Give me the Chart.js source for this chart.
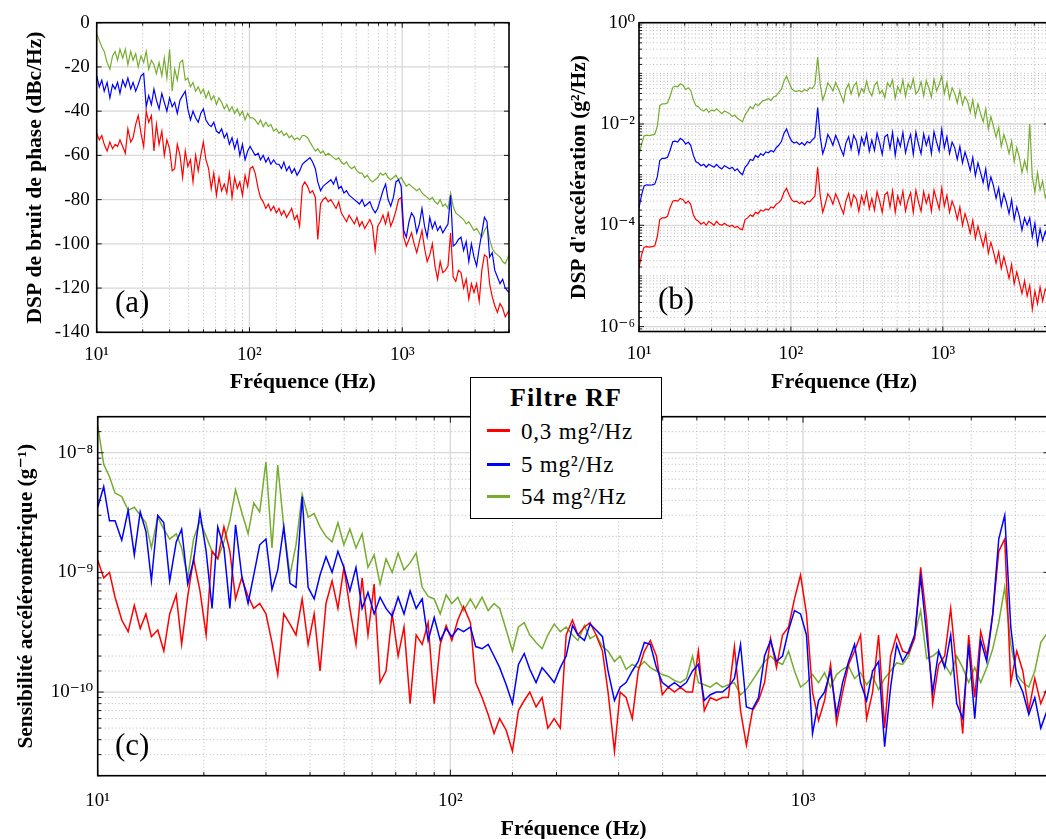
<!DOCTYPE html>
<html><head><meta charset="utf-8">
<script src="https://cdn.jsdelivr.net/npm/chart.js@4.4.1/dist/chart.umd.min.js"></script>
<style>
html,body{margin:0;padding:0;background:#fff;width:1046px;height:839px;overflow:hidden;position:relative;}
canvas{position:absolute;}
#ca{left:0;top:0;} #cb{left:520px;top:0;} #cc{left:0;top:400px;}
.tag{position:absolute;font-family:'Liberation Serif','DejaVu Serif',serif;font-size:31px;line-height:31px;color:#000;z-index:5;}
#legend{position:absolute;left:470px;top:376.7px;width:190px;height:140.3px;border:1.5px solid #000;background:#fff;z-index:10;font-family:'Liberation Serif','DejaVu Serif',serif;color:#000;}
#legend .lt{position:absolute;left:0;top:5.8px;width:190px;text-align:center;font-weight:bold;font-size:26px;line-height:30px;letter-spacing:1px;}
#legend .sw{position:absolute;left:15.5px;width:23px;height:3px;}
#legend .le{position:absolute;left:50px;font-size:23px;line-height:28px;letter-spacing:0.8px;white-space:nowrap;}
</style>
</head><body>
<canvas id="ca" width="520" height="400"></canvas>
<canvas id="cb" width="540" height="400"></canvas>
<canvas id="cc" width="1063" height="445"></canvas>
<div class="tag" style="left:115px;top:285.5px">(a)</div>
<div class="tag" style="left:658px;top:283px">(b)</div>
<div class="tag" style="left:115px;top:729px">(c)</div>
<div id="legend"></div>
<script>
// ---------- data ----------
const FREQ = [
10,10.4,10.8,11.2,11.7,12.2,12.7,13.2,13.7,14.2,
14.8,15.4,16,16.7,17.3,18,18.7,19.5,20.3,21.1,
21.9,22.8,23.7,24.6,25.6,26.7,27.7,28.8,30,31.2,
32.4,33.7,35.1,36.5,38,39.5,41.1,42.7,44.4,46.2,
48,49.9,51.9,54,56.2,58.4,60.8,63.2,65.7,68.4,
71.1,73.9,76.9,80,83.2,86.5,90,93.6,97.3,101,
105,109,114,118,123,128,133,138,144,150,
156,162,168,175,182,189,197,205,213,222,
230,240,249,259,270,280,292,303,315,328,
341,355,369,384,399,415,432,449,467,486,
505,525,546,568,591,614,639,665,691,719,
748,778,809,841,875,910,946,984,1023,1064,
1107,1151,1197,1245,1295,1347,1400,1456,1515,1575,
1638,1704,1772,1843,1917,1993,2073,2156,2242,2332,
2425,2522,2623,2728,2837,2950,3069,3191,3319,3452,
3590,3733,3883,4038,4200,4368,4542,4724,5000];

const SERIES_NAMES = ['0,3 mg²/Hz','5 mg²/Hz','54 mg²/Hz'];
const SERIES_COLORS = ['#ff0000','#0000ff','#77ac30'];
const LEGEND_TITLE = 'Filtre RF';

// (a) phase noise PSD, dBc/Hz
const A_RED = [
-50,-53,-51,-55,-58,-54,-57,-55,-56,-53,
-56,-59,-48,-54,-52,-46,-42,-50,-56,-40,
-45,-42,-58,-46,-55,-49,-60,-53,-57,-67,
-66,-55,-60,-70,-58,-65,-62,-72,-60,-67,
-60,-54,-62,-66,-75,-68,-78,-70,-76,-73,
-77,-68,-79,-70,-75,-72,-78,-69,-74,-66,
-65,-68,-75,-79,-81,-84,-82,-85,-83,-86,
-84,-87,-85,-88,-86,-84,-89,-87,-92,-74,
-72,-74,-77,-76,-79,-98,-82,-80,-79,-81,
-80,-82,-84,-81,-86,-88,-90,-87,-89,-91,
-88,-92,-90,-93,-91,-89,-92,-103,-92,-90,
-87,-91,-86,-92,-89,-85,-80,-79,-97,-101,
-98,-95,-100,-104,-99,-94,-102,-108,-105,-100,
-110,-116,-108,-113,-112,-110,-95,-115,-117,-112,
-113,-120,-116,-125,-118,-122,-118,-126,-112,-105,
-106,-118,-124,-128,-131,-127,-129,-133,-130];
const A_BLUE = [
-24,-29,-26,-31,-27,-34,-28,-30,-27,-32,
-26,-29,-25,-30,-27,-31,-28,-24,-23,-38,
-33,-37,-30,-35,-39,-32,-36,-40,-34,-38,
-36,-41,-35,-33,-31,-39,-44,-40,-43,-45,
-41,-39,-44,-46,-47,-45,-49,-50,-48,-52,
-50,-55,-52,-57,-53,-60,-55,-62,-58,-56,
-58,-60,-59,-62,-60,-63,-61,-64,-62,-64,
-64,-66,-63,-67,-65,-68,-66,-69,-67,-64,
-63,-62,-61,-63,-66,-72,-76,-74,-73,-72,
-71,-73,-70,-75,-74,-77,-76,-78,-79,-80,
-81,-82,-80,-83,-82,-81,-84,-86,-84,-80,
-76,-73,-80,-83,-79,-72,-71,-74,-94,-97,
-90,-86,-88,-95,-91,-84,-92,-97,-88,-93,
-90,-94,-92,-95,-93,-91,-78,-101,-100,-98,
-97,-103,-99,-108,-100,-106,-110,-102,-95,-88,
-90,-106,-104,-112,-115,-118,-116,-120,-122];
const A_GREEN = [
-5,-8,-11,-13,-18,-21,-15,-13,-17,-12,
-16,-12,-19,-13,-17,-14,-20,-15,-18,-13,
-21,-17,-19,-23,-18,-24,-16,-25,-12,-31,
-21,-26,-18,-17,-26,-25,-29,-27,-31,-29,
-32,-30,-34,-31,-35,-33,-37,-34,-36,-39,
-37,-40,-38,-41,-39,-42,-40,-44,-41,-43,
-43,-44,-46,-44,-47,-45,-47,-46,-49,-48,
-50,-49,-51,-50,-52,-51,-53,-52,-53,-51,
-51,-52,-54,-56,-58,-57,-59,-58,-60,-59,
-60,-61,-62,-61,-63,-64,-63,-65,-66,-65,
-67,-68,-68,-70,-69,-71,-72,-71,-70,-68,
-69,-68,-70,-71,-70,-69,-71,-70,-72,-74,
-73,-74,-75,-76,-75,-77,-78,-79,-80,-79,
-81,-82,-80,-83,-82,-84,-77,-83,-86,-87,
-88,-89,-91,-90,-92,-94,-93,-95,-97,-94,
-92,-98,-102,-104,-105,-106,-108,-109,-105];

// (b) acceleration PSD, g²/Hz
const B_RED = [
1.45e-5,2.6e-5,3.7e-5,3.8e-5,3.7e-5,3.8e-5,3.9e-5,6e-5,1.3e-4,1.4e-4,
1.4e-4,1.5e-4,2.2e-4,3.0e-4,3.1e-4,3.0e-4,3.4e-4,3.2e-4,2.7e-4,3.0e-4,
2.6e-4,1.6e-4,1.3e-4,1.2e-4,1.05e-4,1.15e-4,1.0e-4,1.2e-4,1.1e-4,1.0e-4,
1.2e-4,1.05e-4,1.0e-4,1.1e-4,1.0e-4,9.5e-5,1.0e-4,9e-5,9.5e-5,8.5e-5,
8.2e-5,1.3e-4,1.4e-4,1.6e-4,1.5e-4,1.8e-4,1.7e-4,2.0e-4,1.9e-4,2.1e-4,
2.0e-4,2.3e-4,2.2e-4,2.6e-4,2.8e-4,3.2e-4,4.5e-4,5.4e-4,4.0e-4,3.2e-4,
2.9e-4,3.0e-4,2.7e-4,2.9e-4,2.6e-4,3.0e-4,2.9e-4,3.3e-4,3.8e-4,1.4e-3,
3.8e-4,1.8e-4,2.6e-4,4.2e-4,3.5e-4,2.6e-4,4.2e-4,3.2e-4,2.3e-4,1.7e-4,
3.0e-4,4.3e-4,2.4e-4,4.0e-4,3.3e-4,1.9e-4,3.8e-4,2.6e-4,4.5e-4,2.1e-4,
3.4e-4,2.0e-4,4.6e-4,3.0e-4,1.8e-4,4.0e-4,4.5e-4,2.3e-4,4.8e-4,1.8e-4,
3.8e-4,2.6e-4,4.7e-4,1.9e-4,3.2e-4,4.4e-4,1.8e-4,4.9e-4,2.9e-4,1.9e-4,
4.6e-4,2.7e-4,4.0e-4,1.9e-4,4.9e-4,3.2e-4,2.1e-4,5.4e-4,2.4e-4,3.9e-4,
1.8e-4,3.0e-4,2.2e-4,1.3e-4,2.3e-4,1.0e-4,1.7e-4,1.15e-4,7e-5,1.25e-4,
5.5e-5,9.5e-5,6e-5,3.8e-5,6.8e-5,2.8e-5,4.6e-5,3.0e-5,1.8e-5,3.0e-5,
1.4e-5,2.4e-5,1.5e-5,9e-6,1.7e-5,7e-6,1.2e-5,7.5e-6,4.5e-6,8e-6,
4e-6,6.5e-6,2.2e-6,5e-6,2.8e-6,6e-6,3.2e-6,5.5e-6,4.5e-6];
const B_BLUE = [
2.2e-4,4e-4,6.0e-4,6.3e-4,6.2e-4,6.3e-4,6.5e-4,9e-4,1.9e-3,2.1e-3,
2.1e-3,2.2e-3,3.0e-3,4.5e-3,4.6e-3,4.4e-3,5.2e-3,4.8e-3,4.0e-3,4.4e-3,
3.8e-3,2.4e-3,1.8e-3,1.7e-3,1.5e-3,1.6e-3,1.4e-3,1.6e-3,1.5e-3,1.4e-3,
1.6e-3,1.4e-3,1.3e-3,1.5e-3,1.4e-3,1.3e-3,1.4e-3,1.2e-3,1.3e-3,1.1e-3,
1.0e-3,1.4e-3,1.6e-3,2.0e-3,1.9e-3,2.4e-3,2.2e-3,2.6e-3,2.4e-3,2.8e-3,
2.7e-3,3.0e-3,2.8e-3,3.4e-3,3.8e-3,4.5e-3,6.5e-3,8.0e-3,5.8e-3,4.6e-3,
4.2e-3,4.4e-3,3.9e-3,4.3e-3,3.8e-3,4.5e-3,4.2e-3,4.8e-3,5.5e-3,2.1e-2,
5.5e-3,2.6e-3,3.6e-3,6.2e-3,5.0e-3,3.8e-3,6.0e-3,4.5e-3,3.2e-3,2.4e-3,
4.2e-3,5.6e-3,3.2e-3,6.0e-3,4.6e-3,2.6e-3,5.4e-3,3.8e-3,6.4e-3,2.9e-3,
4.8e-3,3.0e-3,6.6e-3,4.2e-3,2.5e-3,5.6e-3,6.2e-3,3.3e-3,6.8e-3,2.4e-3,
5.2e-3,3.6e-3,6.8e-3,2.7e-3,4.4e-3,6.2e-3,2.5e-3,6.9e-3,4.0e-3,2.6e-3,
6.4e-3,3.8e-3,5.6e-3,2.6e-3,7.0e-3,4.4e-3,2.9e-3,7.8e-3,3.4e-3,5.6e-3,
2.6e-3,4.4e-3,3.4e-3,2.0e-3,3.6e-3,1.7e-3,2.8e-3,1.9e-3,1.2e-3,2.2e-3,
9.5e-4,1.7e-3,1.1e-3,7.0e-4,1.3e-3,5.2e-4,9.0e-4,6.0e-4,3.4e-4,5.5e-4,
2.4e-4,4.2e-4,2.8e-4,1.7e-4,3.2e-4,1.3e-4,2.3e-4,1.5e-4,8e-5,1.4e-4,
1.0e-4,1.4e-4,6e-5,1.1e-4,4.2e-5,8.5e-5,5e-5,7.5e-5,4.5e-5];
const B_GREEN = [
2.4e-3,4.0e-3,5.8e-3,6.0e-3,5.9e-3,6.1e-3,6.3e-3,9e-3,2.3e-2,2.5e-2,
2.5e-2,2.6e-2,3.5e-2,5.3e-2,5.6e-2,5.4e-2,6.2e-2,5.8e-2,4.8e-2,5.2e-2,
4.6e-2,3.0e-2,2.3e-2,2.2e-2,1.9e-2,1.8e-2,2.0e-2,1.7e-2,1.9e-2,1.8e-2,
2.0e-2,1.8e-2,1.6e-2,1.8e-2,1.7e-2,1.6e-2,1.4e-2,1.5e-2,1.3e-2,1.2e-2,
1.1e-2,1.5e-2,1.8e-2,2.2e-2,2.0e-2,2.5e-2,2.3e-2,2.6e-2,2.9e-2,3.0e-2,
3.2e-2,2.9e-2,3.4e-2,3.6e-2,4.2e-2,4.8e-2,7.0e-2,8.9e-2,6.5e-2,5.0e-2,
4.5e-2,4.4e-2,4.6e-2,4.3e-2,4.8e-2,4.5e-2,5.2e-2,5.0e-2,6.0e-2,0.21,
6.0e-2,3.0e-2,4.0e-2,6.5e-2,5.5e-2,4.5e-2,6.6e-2,5.0e-2,3.8e-2,2.7e-2,
4.8e-2,6.2e-2,3.9e-2,5.6e-2,6.6e-2,3.5e-2,5.0e-2,4.2e-2,7.0e-2,4.4e-2,
3.6e-2,5.8e-2,6.8e-2,4.0e-2,4.6e-2,3.3e-2,6.5e-2,5.4e-2,7.4e-2,3.2e-2,
5.5e-2,4.2e-2,7.4e-2,3.5e-2,6.2e-2,5.0e-2,7.8e-2,3.9e-2,4.6e-2,6.8e-2,
3.6e-2,7.2e-2,5.2e-2,3.4e-2,7.6e-2,4.5e-2,6.0e-2,8.8e-2,4.0e-2,6.6e-2,
3.2e-2,5.2e-2,4.0e-2,2.6e-2,4.6e-2,2.4e-2,3.5e-2,2.8e-2,1.7e-2,3.0e-2,
1.4e-2,2.5e-2,1.6e-2,1.1e-2,2.0e-2,8e-3,1.4e-2,9e-3,5.5e-3,8.5e-3,
3.6e-3,6.2e-3,4.2e-3,2.6e-3,4.6e-3,1.8e-3,3.4e-3,2.2e-3,1.1e-3,1.9e-3,
1.2e-3,1.0e-2,9e-4,4.5e-4,1.1e-3,5e-4,7.5e-4,3.5e-4,6e-4];

// (c) accelerometric sensitivity, g^-1
const C_RED = [
1.27e-9,0.9e-9,1.0e-9,0.62e-9,0.4e-9,0.32e-9,0.53e-9,0.34e-9,0.45e-9,0.29e-9,
0.33e-9,0.22e-9,0.45e-9,0.65e-9,0.25e-9,0.63e-9,1.3e-9,0.7e-9,0.3e-9,1.5e-9,
1.3e-9,2.4e-9,1.5e-9,0.6e-9,0.9e-9,0.63e-9,0.5e-9,0.55e-9,0.45e-9,0.26e-9,
0.14e-9,0.45e-9,0.37e-9,0.3e-9,0.6e-9,0.25e-9,0.45e-9,0.15e-9,0.55e-9,0.85e-9,
0.5e-9,1.1e-9,0.5e-9,0.25e-9,0.9e-9,0.3e-9,0.8e-9,0.12e-9,0.15e-9,0.45e-9,
0.2e-9,0.35e-9,0.08e-9,0.3e-9,0.25e-9,0.38e-9,0.08e-9,0.25e-9,0.36e-9,0.27e-9,
0.4e-9,0.52e-9,0.38e-9,0.12e-9,0.09e-9,0.065e-9,0.045e-9,0.06e-9,0.048e-9,0.032e-9,
0.07e-9,0.085e-9,0.1e-9,0.075e-9,0.09e-9,0.05e-9,0.06e-9,0.05e-9,0.3e-9,0.4e-9,
0.3e-9,0.35e-9,0.38e-9,0.3e-9,0.22e-9,0.1e-9,0.032e-9,0.1e-9,0.09e-9,0.06e-9,
0.15e-9,0.22e-9,0.27e-9,0.2e-9,0.095e-9,0.11e-9,0.1e-9,0.11e-9,0.1e-9,0.1e-9,
0.22e-9,0.07e-9,0.09e-9,0.085e-9,0.09e-9,0.09e-9,0.24e-9,0.07e-9,0.036e-9,0.07e-9,
0.085e-9,0.12e-9,0.28e-9,0.16e-9,0.3e-9,0.35e-9,0.6e-9,0.95e-9,0.45e-9,0.1e-9,
0.058e-9,0.085e-9,0.17e-9,0.055e-9,0.1e-9,0.17e-9,0.22e-9,0.3e-9,0.06e-9,0.1e-9,
0.3e-9,0.05e-9,0.2e-9,0.3e-9,0.22e-9,0.21e-9,0.28e-9,1.1e-9,0.4e-9,0.08e-9,
0.17e-9,0.2e-9,0.5e-9,0.15e-9,0.045e-9,0.3e-9,0.09e-9,0.32e-9,0.2e-9,0.45e-9,
1.5e-9,1.9e-9,0.12e-9,0.22e-9,0.15e-9,0.07e-9,0.13e-9,0.08e-9,0.12e-9];
const C_BLUE = [
3.5e-9,5.2e-9,2.7e-9,2.7e-9,1.86e-9,3.3e-9,1.4e-9,3.2e-9,2.2e-9,0.85e-9,
3.0e-9,2.6e-9,0.85e-9,1.8e-9,2.3e-9,0.8e-9,1.25e-9,3.2e-9,1.5e-9,0.5e-9,
2.4e-9,1.6e-9,0.5e-9,2.5e-9,0.95e-9,0.55e-9,0.95e-9,1.7e-9,1.9e-9,0.72e-9,
1.05e-9,2.4e-9,0.81e-9,0.75e-9,4.3e-9,0.75e-9,0.6e-9,0.95e-9,1.35e-9,1.0e-9,
1.5e-9,1.1e-9,0.7e-9,1.1e-9,0.5e-9,0.68e-9,0.45e-9,0.62e-9,0.5e-9,0.43e-9,
0.62e-9,0.45e-9,0.7e-9,0.5e-9,0.6e-9,0.27e-9,0.42e-9,0.27e-9,0.34e-9,0.29e-9,
0.34e-9,0.32e-9,0.35e-9,0.24e-9,0.23e-9,0.25e-9,0.2e-9,0.16e-9,0.115e-9,0.08e-9,
0.17e-9,0.21e-9,0.155e-9,0.12e-9,0.16e-9,0.14e-9,0.12e-9,0.16e-9,0.2e-9,0.36e-9,
0.3e-9,0.27e-9,0.37e-9,0.33e-9,0.29e-9,0.15e-9,0.085e-9,0.11e-9,0.12e-9,0.15e-9,
0.18e-9,0.26e-9,0.25e-9,0.16e-9,0.12e-9,0.11e-9,0.12e-9,0.11e-9,0.12e-9,0.15e-9,
0.17e-9,0.085e-9,0.095e-9,0.1e-9,0.1e-9,0.11e-9,0.13e-9,0.25e-9,0.075e-9,0.072e-9,
0.09e-9,0.2e-9,0.27e-9,0.18e-9,0.2e-9,0.33e-9,0.48e-9,0.45e-9,0.3e-9,0.045e-9,
0.085e-9,0.1e-9,0.15e-9,0.065e-9,0.12e-9,0.18e-9,0.25e-9,0.12e-9,0.085e-9,0.15e-9,
0.18e-9,0.035e-9,0.11e-9,0.25e-9,0.18e-9,0.22e-9,0.3e-9,0.92e-9,0.3e-9,0.1e-9,
0.22e-9,0.16e-9,0.3e-9,0.08e-9,0.06e-9,0.25e-9,0.06e-9,0.27e-9,0.18e-9,0.45e-9,
1.9e-9,3.0e-9,0.35e-9,0.13e-9,0.1e-9,0.065e-9,0.09e-9,0.05e-9,0.08e-9];
const C_GREEN = [
17e-9,8.0e-9,6.3e-9,4.6e-9,4.3e-9,3.3e-9,3.5e-9,3.0e-9,2.6e-9,1.6e-9,
2.9e-9,2.3e-9,1.9e-9,2.1e-9,1.6e-9,0.9e-9,1.9e-9,2.7e-9,2.0e-9,1.5e-9,
1.3e-9,1.8e-9,2.7e-9,4.9e-9,3.2e-9,2.1e-9,3.8e-9,3.2e-9,8.4e-9,1.6e-9,
7.9e-9,2.4e-9,0.95e-9,1.7e-9,4.5e-9,2.9e-9,3.1e-9,2.4e-9,2.0e-9,1.8e-9,
2.6e-9,1.7e-9,2.3e-9,1.6e-9,2.1e-9,1.1e-9,1.4e-9,0.8e-9,1.3e-9,1.0e-9,
1.45e-9,1.05e-9,1.2e-9,1.45e-9,0.75e-9,0.63e-9,0.6e-9,0.45e-9,0.65e-9,0.55e-9,
0.62e-9,0.48e-9,0.6e-9,0.5e-9,0.62e-9,0.48e-9,0.55e-9,0.5e-9,0.33e-9,0.22e-9,
0.35e-9,0.38e-9,0.3e-9,0.26e-9,0.23e-9,0.3e-9,0.37e-9,0.32e-9,0.35e-9,0.3e-9,
0.27e-9,0.36e-9,0.28e-9,0.3e-9,0.24e-9,0.22e-9,0.18e-9,0.2e-9,0.155e-9,0.17e-9,
0.16e-9,0.18e-9,0.16e-9,0.15e-9,0.14e-9,0.135e-9,0.125e-9,0.12e-9,0.13e-9,0.2e-9,
0.12e-9,0.115e-9,0.11e-9,0.12e-9,0.11e-9,0.115e-9,0.12e-9,0.095e-9,0.105e-9,0.125e-9,
0.15e-9,0.18e-9,0.2e-9,0.18e-9,0.17e-9,0.22e-9,0.15e-9,0.11e-9,0.12e-9,0.14e-9,
0.12e-9,0.145e-9,0.11e-9,0.14e-9,0.155e-9,0.165e-9,0.13e-9,0.145e-9,0.115e-9,0.135e-9,
0.105e-9,0.13e-9,0.15e-9,0.175e-9,0.17e-9,0.2e-9,0.3e-9,0.48e-9,0.19e-9,0.2e-9,
0.22e-9,0.17e-9,0.14e-9,0.2e-9,0.16e-9,0.12e-9,0.16e-9,0.12e-9,0.16e-9,0.23e-9,
0.38e-9,0.75e-9,0.25e-9,0.14e-9,0.12e-9,0.11e-9,0.15e-9,0.26e-9,0.33e-9];

// tick labels
const X_TICKS = [10, 100, 1000];
const X_TICK_LABELS = ['10¹', '10²', '10³'];
const A_Y_TICKS = [0, -20, -40, -60, -80, -100, -120, -140];
const A_Y_TICK_LABELS = ['0', '-20', '-40', '-60', '-80', '-100', '-120', '-140'];
const B_Y_TICKS = [1, 1e-2, 1e-4, 1e-6];
const B_Y_TICK_LABELS = ['10⁰', '10⁻²', '10⁻⁴', '10⁻⁶'];
const C_Y_TICKS = [1e-8, 1e-9, 1e-10];
const C_Y_TICK_LABELS = ['10⁻⁸', '10⁻⁹', '10⁻¹⁰'];

const TITLE_X = 'Fréquence (Hz)';
const TITLE_A = 'DSP de bruit de phase (dBc/Hz)';
const TITLE_B = "DSP d'accélération (g²/Hz)";
const TITLE_C = 'Sensibilité accélérométrique (g⁻¹)';

// ---------- helpers ----------
const SERIF = "'Liberation Serif','DejaVu Serif',serif";
function tickText(v, vals, labels){
  for (let i = 0; i < vals.length; i++){
    if (v === vals[i] || Math.abs(v - vals[i]) <= Math.abs(vals[i]) * 1e-6) return labels[i];
  }
  return '';
}
function isMajor(scale, v, every){
  if (scale.type !== 'logarithmic') return true;
  const e = Math.log10(v), r = Math.round(e);
  return Math.abs(e - r) < 1e-6 && (r % every === 0);
}
const matlabPlugin = {
  id: 'matlab',
  beforeDatasetsDraw(chart, args, o){
    const {ctx, chartArea: a} = chart;
    ctx.save();
    ctx.beginPath(); ctx.rect(a.left, a.top, a.right - a.left, a.bottom - a.top); ctx.clip();
    const draw = (s, vertical, minorOn, every) => {
      s.ticks.forEach(t => {
        const v = t.value, major = isMajor(s, v, every);
        if (!major && !minorOn) return;
        const p = s.getPixelForValue(v);
        ctx.beginPath();
        ctx.lineWidth = major ? 1.3 : 1;
        ctx.strokeStyle = major ? '#d7d7d7' : '#b9b9b9';
        ctx.setLineDash(major ? [] : [1, 2.5]);
        if (vertical){ ctx.moveTo(p, a.top); ctx.lineTo(p, a.bottom); }
        else { ctx.moveTo(a.left, p); ctx.lineTo(a.right, p); }
        ctx.stroke();
      });
    };
    draw(chart.scales.x, true, true, 1);
    draw(chart.scales.y, false, o.yMinor, o.yEvery || 1);
    ctx.restore();
  },
  afterDatasetsDraw(chart, args, o){
    const {ctx, chartArea: a} = chart;
    ctx.save();
    ctx.setLineDash([]);
    ctx.strokeStyle = '#1a1a1a';
    ctx.lineWidth = 1;
    const L = o.tick || 6;
    const xs = chart.scales.x, ys = chart.scales.y;
    ctx.beginPath();
    xs.ticks.forEach(t => {
      const p = xs.getPixelForValue(t.value);
      const l = isMajor(xs, t.value, 1) ? L : L * 0.6;
      ctx.moveTo(p, a.bottom); ctx.lineTo(p, a.bottom - l);
      ctx.moveTo(p, a.top); ctx.lineTo(p, a.top + l);
    });
    ys.ticks.forEach(t => {
      const p = ys.getPixelForValue(t.value);
      const l = isMajor(ys, t.value, o.yEvery || 1) ? L : L * 0.6;
      ctx.moveTo(a.left, p); ctx.lineTo(a.left + l, p);
      ctx.moveTo(a.right, p); ctx.lineTo(a.right - l, p);
    });
    ctx.stroke();
    ctx.lineWidth = 1.6;
    ctx.strokeStyle = '#000';
    ctx.strokeRect(a.left, a.top, a.right - a.left, a.bottom - a.top);
    ctx.restore();
  }
};

function ds(label, color, ys, order, bw){
  return {label, data: FREQ.map((f, i) => ({x: f, y: ys[i]})), borderColor: color,
          backgroundColor: color, borderWidth: bw, pointRadius: 0, tension: 0, fill: false, order};
}

function makeChart(id, o){
  return new Chart(document.getElementById(id), {
    type: 'line',
    data: {datasets: [
      ds(SERIES_NAMES[2], SERIES_COLORS[2], o.green, 3, o.bw),
      ds(SERIES_NAMES[0], SERIES_COLORS[0], o.red, 2, o.bw),
      ds(SERIES_NAMES[1], SERIES_COLORS[1], o.blue, 1, o.bw)
    ]},
    options: {
      responsive: false, animation: false, events: [],
      layout: {padding: o.pad},
      plugins: {legend: {display: false}, tooltip: {enabled: false},
                matlab: {yMinor: o.yMinor, yEvery: o.yEvery, tick: o.tick}},
      scales: {
        x: {type: 'logarithmic', min: 10, max: 5000,
            grid: {display: false, drawTicks: false}, border: {display: false},
            ticks: {autoSkip: false, maxRotation: 0, minRotation: 0, padding: o.xPad, color: '#000',
                    font: {family: SERIF, size: 19},
                    callback: v => tickText(v, X_TICKS, X_TICK_LABELS)},
            title: {display: true, text: TITLE_X, color: '#000',
                    font: {family: SERIF, size: 22, weight: 'bold'}, padding: {top: 0, bottom: o.xTitlePad}},
            afterFit: s => { s.height = o.xH; }},
        y: {type: o.yType, min: o.yMin, max: o.yMax,
            grid: {display: false, drawTicks: false}, border: {display: false},
            ticks: Object.assign({autoSkip: false, padding: o.yPad, color: '#000', font: {family: SERIF, size: 19},
                    callback: v => tickText(v, o.yTicks, o.yLabels)}, o.yTickExtra || {}),
            title: {display: true, text: o.yTitle, color: '#000',
                    font: {family: SERIF, size: o.yTitleSize, weight: 'bold'}, padding: {top: o.yTitlePad, bottom: 0}},
            afterFit: s => { s.width = o.yW; }}
      }
    },
    plugins: [matlabPlugin]
  });
}

makeChart('ca', {
  red: A_RED, blue: A_BLUE, green: A_GREEN, bw: 1.2,
  pad: {top: 22.7, right: 10, left: 0, bottom: 0},
  xH: 67.7, xPad: 11, xTitlePad: 4.8,
  yW: 96.7, yPad: 7, yTitlePad: 22.1, yTitle: TITLE_A, yTitleSize: 21.5,
  yTicks: A_Y_TICKS, yLabels: A_Y_TICK_LABELS,
  yType: 'linear', yMin: -140, yMax: 0, yTickExtra: {stepSize: 20},
  yMinor: false, tick: 5
});

makeChart('cb', {
  red: B_RED, blue: B_BLUE, green: B_GREEN, bw: 1.2,
  pad: {top: 22.7, right: 10.2, left: 0, bottom: 0},
  xH: 68.5, xPad: 11, xTitlePad: 4.8,
  yW: 119, yPad: 4, yTitlePad: 46.1, yTitle: TITLE_B, yTitleSize: 21.5,
  yTicks: B_Y_TICKS, yLabels: B_Y_TICK_LABELS,
  yType: 'logarithmic', yMin: 8e-7, yMax: 1,
  yMinor: true, yEvery: 2, tick: 5
});

makeChart('cc', {
  red: C_RED, blue: C_BLUE, green: C_GREEN, bw: 1.5,
  pad: {top: 16.7, right: 9.8, left: 0, bottom: 0},
  xH: 69.3, xPad: 13.5, xTitlePad: 2.8,
  yW: 97.7, yPad: 4.5, yTitlePad: 14.1, yTitle: TITLE_C, yTitleSize: 21.4,
  yTicks: C_Y_TICKS, yLabels: C_Y_TICK_LABELS,
  yType: 'logarithmic', yMin: 2e-11, yMax: 2e-8,
  yMinor: true, yEvery: 1, tick: 6
});

// ---------- legend (HTML, built from the series arrays) ----------
(function(){
  const lg = document.getElementById('legend');
  const t = document.createElement('div'); t.className = 'lt'; t.textContent = LEGEND_TITLE; lg.appendChild(t);
  const swY = [52.8, 86.8, 118.8], txY = [40.8, 73.8, 105.8];
  SERIES_NAMES.forEach((n, i) => {
    const s = document.createElement('div'); s.className = 'sw';
    s.style.top = (swY[i] - 1.5) + 'px'; s.style.background = SERIES_COLORS[i]; lg.appendChild(s);
    const e = document.createElement('div'); e.className = 'le'; e.style.top = txY[i] + 'px';
    e.textContent = n; lg.appendChild(e);
  });
})();
</script>
</body></html>
